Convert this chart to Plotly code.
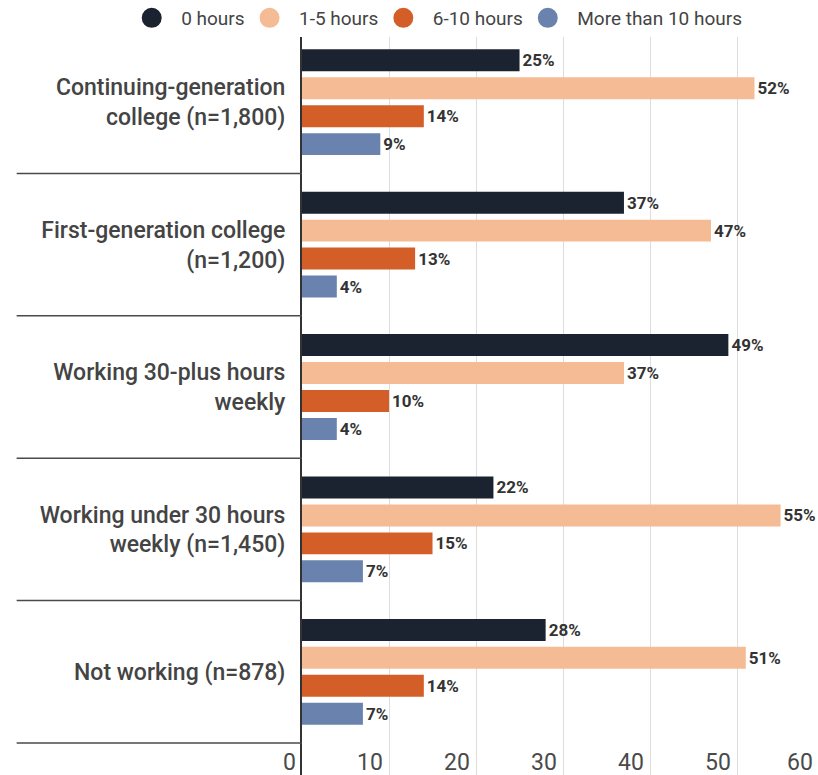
import plotly.graph_objects as go

# Survey groups (top to bottom) and share of respondents per weekly-hours bucket
groups = [
    "Continuing-generation<br>college (n=1,800)",
    "First-generation college<br>(n=1,200)",
    "Working 30-plus hours<br>weekly",
    "Working under 30 hours<br>weekly (n=1,450)",
    "Not working (n=878)",
]
series_names = ["0 hours", "1-5 hours", "6-10 hours", "More than 10 hours"]
hours_0 = [25, 37, 49, 22, 28]
hours_1_5 = [52, 47, 37, 55, 51]
hours_6_10 = [14, 13, 10, 15, 14]
hours_10_plus = [9, 4, 4, 7, 7]
x_ticks = [0, 10, 20, 30, 40, 50, 60]
x_max = 59.3  # visible end of the value axis

series_values = [hours_0, hours_1_5, hours_6_10, hours_10_plus]
colors = ["#1b2230", "#f4bb95", "#d35e27", "#6a83ae"]

fig = go.Figure()

for name, vals, col in zip(series_names, series_values, colors):
    fig.add_trace(go.Bar(
        y=groups, x=vals, orientation="h", name=name,
        marker=dict(color=col, line=dict(width=0)),
        text=[f"{v}%" for v in vals], textposition="outside",
        textfont=dict(family="Roboto", size=17, color="#333333", weight="bold"),
        cliponaxis=False, showlegend=False, hoverinfo="skip",
    ))
    # circular legend entries (non-breaking spaces widen the gap after the dot)
    fig.add_trace(go.Scatter(
        x=[None], y=[None], mode="markers", name="\u00a0\u00a0" + name,
        marker=dict(color=col, size=16, symbol="circle",
                    line=dict(color=col, width=4)),
        showlegend=True,
    ))

# dividers between the groups
for i in range(len(groups)):
    fig.add_shape(type="line", xref="paper", yref="y",
                  x0=-0.553, x1=0, y0=i + 0.5, y1=i + 0.5,
                  line=dict(color="#4a4a4a", width=1.5))

# value labels along the bottom, right-aligned to their gridlines
# (the last one is nudged in so it stays inside the page)
for t in x_ticks:
    fig.add_annotation(x=t / x_max, xref="paper", y=0, yref="paper", yanchor="bottom",
                       xanchor="right", xshift=-4 if t < x_max else -9, yshift=-3,
                       showarrow=False, text=str(t),
                       font=dict(family="Roboto", size=23, color="#4a4a4a"))

fig.update_layout(
    width=818, height=775,
    margin=dict(l=302, r=0, t=31, b=0, autoexpand=False),
    paper_bgcolor="white", plot_bgcolor="white",
    barmode="group", bargap=0.215, bargroupgap=0.214,
    showlegend=True,
    legend=dict(orientation="h", xref="paper", yref="paper",
                x=-0.33, y=1.0175, xanchor="left", yanchor="middle",
                font=dict(family="Roboto", size=19, color="#444444"),
                itemwidth=30, traceorder="normal"),
    xaxis=dict(range=[0, x_max], showticklabels=False, ticks="",
               showgrid=True, gridcolor="#dddddd", gridwidth=1,
               tickvals=x_ticks, zeroline=False,
               showline=False, fixedrange=True),
    yaxis=dict(range=[4.7246, -0.5], type="category",
               ticks="", ticklabelstandoff=10,
               tickfont=dict(family="Roboto", size=23, color="#444444", weight=500),
               showline=True, linecolor="#333333", linewidth=2,
               showgrid=False, fixedrange=True),
)

fig.write_html("out.html")
